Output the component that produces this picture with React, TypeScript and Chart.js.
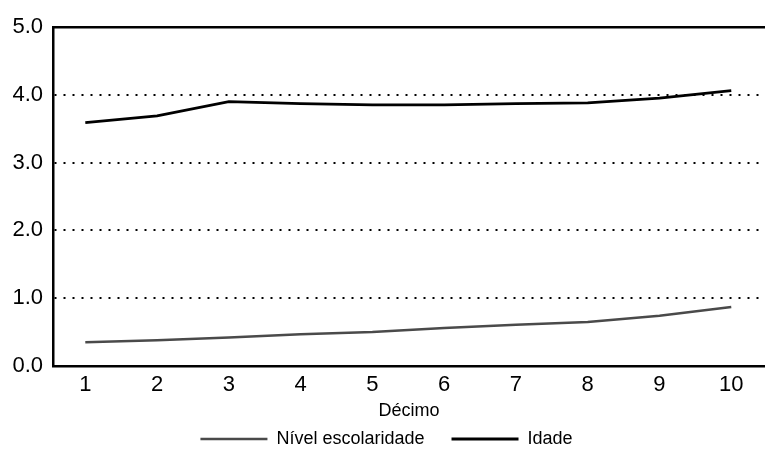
import React, { useEffect, useRef } from "react";
import { Chart, registerables } from "chart.js";

Chart.register(...registerables);

const decimos = [1, 2, 3, 4, 5, 6, 7, 8, 9, 10];
const nivelEscolaridade = [0.35, 0.38, 0.42, 0.47, 0.5, 0.56, 0.61, 0.65, 0.74, 0.87];
const idade = [3.59, 3.69, 3.9, 3.87, 3.85, 3.85, 3.87, 3.88, 3.95, 4.06];
const yTicks = [0, 1, 2, 3, 4, 5];

const FONT = "'Liberation Sans', Arial, Helvetica, sans-serif";

export default function App() {
  const ref = useRef<HTMLCanvasElement | null>(null);

  useEffect(() => {
    if (!ref.current) return;
    const chart = new Chart(ref.current, {
      type: "line",
      data: {
        datasets: [
          {
            label: "Nível escolaridade",
            data: decimos.map((d, i) => ({ x: d, y: nivelEscolaridade[i] })),
            borderColor: "#4a4a4a",
            borderWidth: 2.5,
            pointRadius: 0,
            tension: 0,
            fill: false,
          },
          {
            label: "Idade",
            data: decimos.map((d, i) => ({ x: d, y: idade[i] })),
            borderColor: "#000000",
            borderWidth: 2.8,
            pointRadius: 0,
            tension: 0,
            fill: false,
          },
        ],
      },
      options: {
        animation: false,
        responsive: false,
        maintainAspectRatio: false,
        layout: { padding: { left: 8, right: 0, top: 27, bottom: -7 } },
        plugins: {
          tooltip: { enabled: false },
          legend: {
            position: "bottom",
            labels: {
              usePointStyle: true,
              pointStyle: "line",
              pointStyleWidth: 67,
              color: "#000",
              font: { family: FONT, size: 18 },
              padding: 27,
            },
          },
        },
        scales: {
          x: {
            type: "linear",
            min: 0.55,
            max: 10.47,
            grid: { display: false, drawTicks: false },
            border: { display: true, color: "#000", width: 2.5 },
            ticks: {
              stepSize: 1,
              includeBounds: false,
              autoSkip: false,
              padding: 6,
              color: "#000",
              font: { family: FONT, size: 22 },
              callback: (v: any) => String(v),
            },
            title: {
              display: true,
              text: "Décimo",
              color: "#000",
              font: { family: FONT, size: 18 },
              padding: { top: -4.2, bottom: -18.8 },
            },
          },
          xTop: {
            type: "linear",
            position: "top",
            min: 0.55,
            max: 10.47,
            grid: { display: false, drawTicks: false },
            border: { display: true, color: "#000", width: 2.5 },
            ticks: { display: false },
          },
          y: {
            type: "linear",
            min: 0,
            max: 5,
            afterBuildTicks: (s: any) => {
              s.ticks = yTicks.map((v) => ({ value: v }));
            },
            afterFit: (s: any) => {
              s.width = 45;
            },
            grid: {
              drawTicks: false,
              color: (ctx: any) =>
                ctx.tick && (ctx.tick.value === 0 || ctx.tick.value === 5) ? "rgba(0,0,0,0)" : "#000",
              lineWidth: 2,
            },
            border: { display: true, color: "#000", width: 2.5, dash: [2, 7] },
            ticks: {
              padding: 10,
              color: "#000",
              font: { family: FONT, size: 22 },
              callback: (v: any) => Number(v).toFixed(1),
            },
          },
        },
      },
    });
    return () => chart.destroy();
  }, []);

  return (
    <div style={{ position: "absolute", left: 0, top: 0, width: 765, height: 451, background: "#fff" }}>
      <canvas ref={ref} width={765} height={451} style={{ width: 765, height: 451 }} />
    </div>
  );
}
